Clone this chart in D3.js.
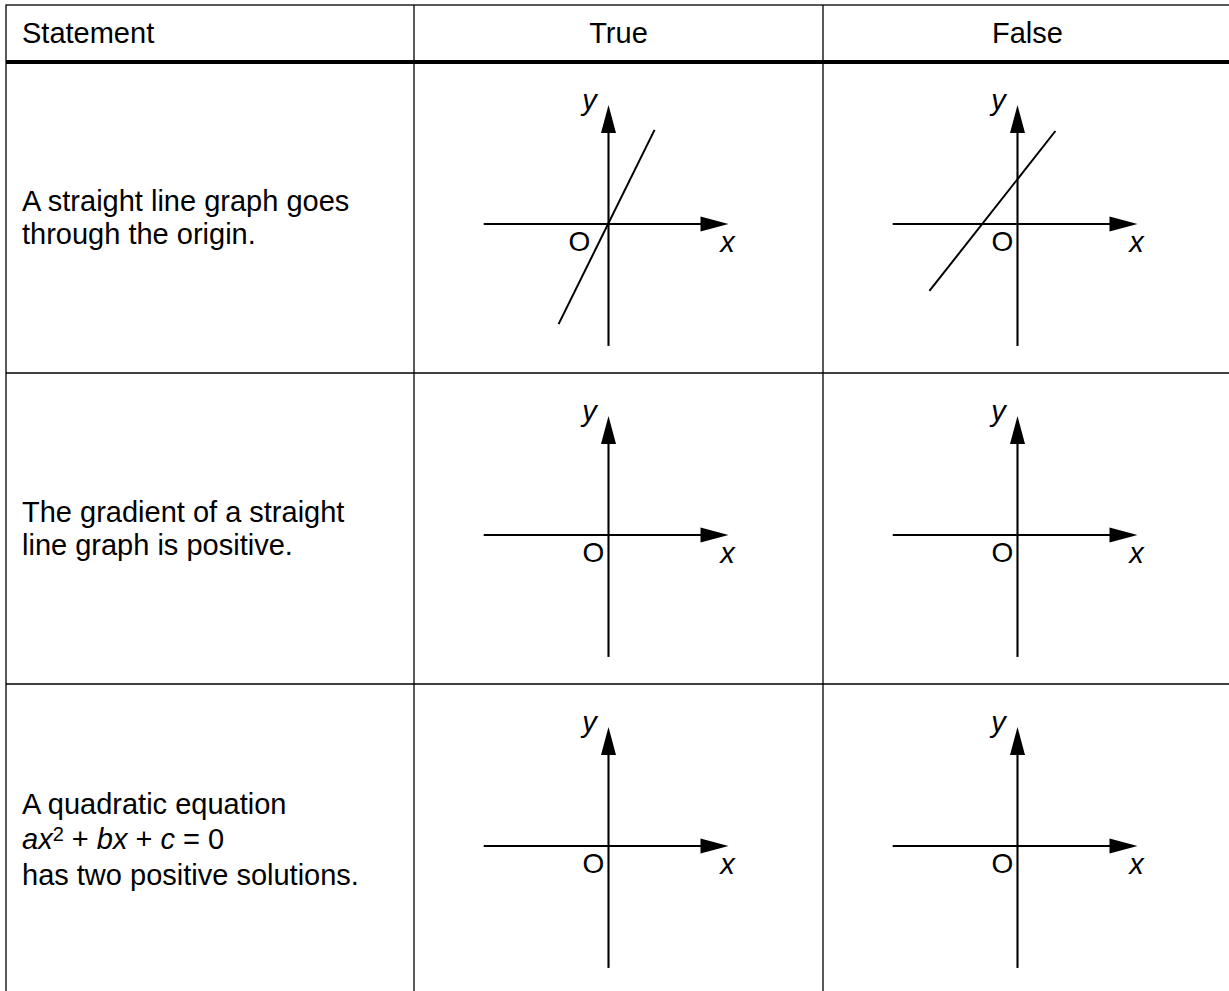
<!DOCTYPE html>
<html><head><meta charset="utf-8">
<script src="https://cdn.jsdelivr.net/npm/d3@7"></script>
<style>html,body{margin:0;padding:0;background:#fff;} svg{display:block;}</style>
</head><body>
<script>
// ---------- data ----------
const headers = ["Statement", "True", "False"];
const statementLines = [
  ["A straight line graph goes", "through the origin."],
  ["The gradient of a straight", "line graph is positive."],
  ["A quadratic equation", "__EQUATION__", "has two positive solutions."]
];
const equationParts = [
  {t: "ax", italic: true}, {t: "2", sup: true}, {t: " + "},
  {t: "bx", italic: true}, {t: " + "}, {t: "c", italic: true}, {t: " = 0"}
];
// sketched straight line in each graph cell [row][True, False], endpoints in graph units; null = blank axes
const cellLines = [
  [[[-2.08, -4.17], [1.92, 3.92]], [[-3.67, -2.79], [1.58, 3.875]]],
  [null, null],
  [null, null]
];
const axisX = [-5.2, 5.0];
const axisY = [-5.08, 4.96];
const axisLabels = {x: "x", y: "y", origin: "O"};

// ---------- layout ----------
const W = 1229, H = 991;
const colX = [6, 414, 823, 1232];
const headTop = 5, headBottom = 62;
const rowY = [62, 373, 684, 995];
const unit = 24, arrowLen = 28, arrowHalf = 7.5;
const FONT = "'Liberation Sans', Arial, Helvetica, sans-serif";
const FS = 29;

const svg = d3.select("body").append("svg").attr("width", W).attr("height", H)
  .style("font-family", FONT);

// table borders
const g = svg.append("g").attr("stroke", "#000").attr("fill", "none");
g.append("rect").attr("x", colX[0]).attr("y", headTop)
  .attr("width", colX[3] - colX[0]).attr("height", rowY[3] - headTop).attr("stroke-width", 1.3);
colX.slice(1, 3).forEach(x => g.append("line").attr("x1", x).attr("x2", x)
  .attr("y1", headTop).attr("y2", rowY[3]).attr("stroke-width", 1.3));
rowY.slice(1, 3).forEach(y => g.append("line").attr("x1", colX[0]).attr("x2", colX[3])
  .attr("y1", y).attr("y2", y).attr("stroke-width", 1.3));
g.append("line").attr("x1", colX[0]).attr("x2", colX[3])
  .attr("y1", headBottom).attr("y2", headBottom).attr("stroke-width", 4);

// headers
headers.forEach((h, i) => {
  svg.append("text")
    .attr("x", i === 0 ? 22 : (colX[i] + colX[i + 1]) / 2)
    .attr("y", 43)
    .attr("text-anchor", i === 0 ? "start" : "middle")
    .attr("font-size", FS).attr("fill", "#000").text(h);
});

// statements
statementLines.forEach((lines, r) => {
  const center = (rowY[r] + rowY[r + 1]) / 2;
  const n = lines.length;
  const lh = n === 3 ? 35.5 : 33;
  const first = center - (n - 1) * lh / 2 + 9.5;
  lines.forEach((ln, k) => {
    const t = svg.append("text").attr("x", 22).attr("y", first + k * lh)
      .attr("font-size", FS).attr("fill", "#000").attr("xml:space", "preserve");
    if (ln === "__EQUATION__") {
      let prevSup = false;
      equationParts.forEach(p => {
        const ts = t.append("tspan").text(p.t).style("white-space", "pre");
        if (p.italic) ts.attr("font-style", "italic");
        if (p.sup) ts.attr("font-size", 20).attr("dy", -8);
        else if (prevSup) ts.attr("dy", 8);
        prevSup = !!p.sup;
      });
    } else t.text(ln);
  });
});

// graphs
cellLines.forEach((row, r) => {
  row.forEach((seg, c) => {
    const ox = (colX[c + 1] + colX[c + 2]) / 2 - 10;
    const oy = (rowY[r] + rowY[r + 1]) / 2 + 6.5;
    const xs = d3.scaleLinear().domain([0, 1]).range([ox, ox + unit]);
    const ys = d3.scaleLinear().domain([0, 1]).range([oy, oy - unit]);
    const cg = svg.append("g");
    // x axis
    cg.append("line").attr("x1", xs(axisX[0])).attr("x2", xs(axisX[1]) - arrowLen + 2)
      .attr("y1", ys(0)).attr("y2", ys(0)).attr("stroke", "#000").attr("stroke-width", 2.1);
    cg.append("path").attr("fill", "#000")
      .attr("d", `M${xs(axisX[1])},${ys(0)}L${xs(axisX[1]) - arrowLen},${ys(0) - arrowHalf}L${xs(axisX[1]) - arrowLen},${ys(0) + arrowHalf}Z`);
    // y axis
    cg.append("line").attr("x1", xs(0)).attr("x2", xs(0))
      .attr("y1", ys(axisY[0])).attr("y2", ys(axisY[1]) + arrowLen - 2)
      .attr("stroke", "#000").attr("stroke-width", 2.1);
    cg.append("path").attr("fill", "#000")
      .attr("d", `M${xs(0)},${ys(axisY[1])}L${xs(0) - arrowHalf},${ys(axisY[1]) + arrowLen}L${xs(0) + arrowHalf},${ys(axisY[1]) + arrowLen}Z`);
    // sketched line
    if (seg) {
      cg.append("path").attr("fill", "none").attr("stroke", "#000").attr("stroke-width", 2)
        .attr("d", d3.line().x(d => xs(d[0])).y(d => ys(d[1]))(seg));
    }
    // labels
    const throughOrigin = seg && Math.abs(seg[0][1] - seg[0][0] * (seg[1][1] - seg[0][1]) / (seg[1][0] - seg[0][0])) < 0.3;
    cg.append("text").attr("x", xs(0) + (throughOrigin ? -29 : -15)).attr("y", ys(0) + 27)
      .attr("text-anchor", "middle").attr("font-size", 28).attr("fill", "#000").text(axisLabels.origin);
    cg.append("text").attr("x", xs(0) - 19).attr("y", ys(0) - 114)
      .attr("text-anchor", "middle").attr("font-size", FS).attr("font-style", "italic")
      .attr("fill", "#000").text(axisLabels.y);
    cg.append("text").attr("x", xs(0) + 119).attr("y", ys(0) + 28)
      .attr("text-anchor", "middle").attr("font-size", FS).attr("font-style", "italic")
      .attr("fill", "#000").text(axisLabels.x);
  });
});
</script>
</body></html>
